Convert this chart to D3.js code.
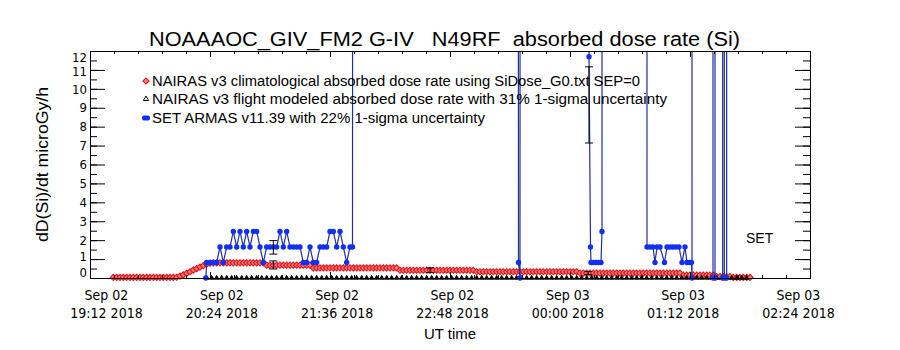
<!DOCTYPE html>
<html>
<head>
<meta charset="utf-8">
<script src="https://cdn.jsdelivr.net/npm/d3@7"></script>
<style>
body { margin: 0; background: #fff; }
svg { display: block; }
</style>
</head>
<body>
<div id="chart"></div>
<script>
// axis starts Sep 02 2018 19:12 UT, everything below is in minutes after that
var t0 = Date.UTC(2018, 8, 2, 19, 12);
var axisMinutes = [0, 432];
var majorStep = 72, minorStep = 14.4;
var yTicks = [0, 1, 2, 3, 4, 5, 6, 7, 8, 9, 10, 11, 12];

var titleText = "NOAAAOC_GIV_FM2 G-IV   N49RF  absorbed dose rate (Si)";
var legendLabels = [
    "NAIRAS v3 climatological absorbed dose rate using SiDose_G0.txt SEP=0",
    "NAIRAS v3 flight modeled absorbed dose rate with 31% 1-sigma uncertainty",
    "SET ARMAS v11.39 with 22% 1-sigma uncertainty"
];

// NAIRAS climatological, 2 min cadence from 19:26
var redStart = 14, redStep = 2;
var redValues = [
    0.03, 0.03, 0.03, 0.03, 0.03, 0.03, 0.03, 0.03, 0.03, 0.03,
    0.03, 0.03, 0.03, 0.03, 0.03, 0.03, 0.03, 0.03, 0.03,
    0.04, 0.1, 0.17, 0.25, 0.33, 0.42, 0.5, 0.58, 0.66, 0.73, 0.78,
    0.8, 0.8, 0.8, 0.8, 0.8, 0.8, 0.8, 0.8, 0.8, 0.8, 0.8, 0.8, 0.8, 0.8, 0.8, 0.8,
    0.68, 0.68, 0.68, 0.68, 0.68, 0.68, 0.68, 0.68, 0.68, 0.68, 0.68, 0.68, 0.68, 0.68,
    0.53, 0.53, 0.53, 0.53, 0.53, 0.53, 0.53, 0.53, 0.53, 0.53,
    0.53, 0.53, 0.53, 0.53, 0.53, 0.53, 0.53, 0.53, 0.53, 0.53,
    0.53, 0.53, 0.53, 0.53, 0.53, 0.53,
    0.41, 0.41, 0.41, 0.41, 0.41, 0.41, 0.41, 0.41, 0.41, 0.41,
    0.41, 0.41, 0.41, 0.41, 0.41, 0.41, 0.41, 0.41, 0.41, 0.41,
    0.41, 0.41, 0.41,
    0.33, 0.33, 0.33, 0.33, 0.33, 0.33, 0.33, 0.33, 0.33, 0.33,
    0.33, 0.33, 0.33, 0.33, 0.33, 0.33, 0.33, 0.33, 0.33, 0.33,
    0.33, 0.33, 0.33, 0.33, 0.33, 0.33, 0.33, 0.33, 0.33, 0.33, 0.33,
    0.26, 0.26, 0.26, 0.26, 0.26, 0.26, 0.26, 0.26, 0.26, 0.26,
    0.26, 0.26, 0.26, 0.26, 0.26, 0.26, 0.26, 0.26, 0.26, 0.26,
    0.26, 0.26, 0.26, 0.26, 0.26, 0.26, 0.26, 0.26, 0.26, 0.26, 0.26,
    0.15, 0.15, 0.15, 0.15, 0.15, 0.15, 0.15, 0.15, 0.15, 0.15,
    0.07, 0.07, 0.07, 0.07, 0.07,
    0.03, 0.03, 0.03, 0.03, 0.03, 0.03
];

// NAIRAS flight modeled, 3 min cadence from 20:22 (sits on the axis)
var flightStart = 70, flightStep = 3;
var flightValues = [
    0, 0, 0, 0, 0, 0, 0, 0, 0, 0,
    0, 0, 0, 0, 0, 0, 0, 0, 0, 0,
    0, 0, 0, 0, 0, 0, 0, 0, 0, 0,
    0, 0, 0, 0, 0, 0, 0, 0, 0, 0,
    0, 0, 0, 0, 0, 0, 0, 0, 0, 0,
    0, 0, 0, 0, 0, 0, 0, 0, 0, 0,
    0, 0, 0, 0, 0, 0, 0, 0, 0, 0,
    0, 0, 0, 0, 0, 0, 0, 0, 0, 0,
    0, 0, 0, 0, 0, 0, 0, 0, 0, 0,
    0, 0, 0, 0, 0, 0, 0, 0, 0, 0,
    0, 0, 0, 0, 0, 0, 0, 0, 0
];

// error bars: minute, centre, 1-sigma fraction
var errMinutes = [110, 110, 204, 299, 299.4];
var errCenters = [0.69, 1.62, 0.41, 0.26, 9.15];
var errFractions = [0.31, 0.22, 0.31, 0.31, 0.22];

// SET ARMAS, FILL marks bad records
var FILL = 9999;
var setMinutes = [
    69.5, 70, 72, 74, 76, 78, 80, 82, 84, 86, 88, 90, 92, 94, 96, 98, 100, 102, 104, 106,
    108, 110, 112, 114, 116, 118, 120, 122, 124, 126, 128, 130, 132, 134, 136, 138, 140, 142,
    144, 146, 148, 150, 152, 154, 156, 157.5,
    200,
    257.1, 258,
    280,
    299.4, 300.3, 300.6, 302.1, 303.6, 305.1, 306.6, 307.2,
    320,
    334.2, 336, 337.8, 339, 340.2, 342, 344.7, 346.2, 348, 349.8, 351.6, 353.4, 355.2, 357,
    358.2, 359.7, 360.9, 361.2,
    367,
    373.8, 374.4, 375, 379.6, 380, 380.6, 382, 383
];
var setValues = [
    0, 0.82, 0.82, 0.82, 0.82, 1.64, 0.82, 1.64, 1.64, 2.46, 1.64, 2.46, 1.64, 2.46, 1.64, 2.46, 2.46, 1.64, 0.82, 1.64,
    1.64, 1.64, 1.64, 2.46, 1.64, 2.46, 1.64, 1.64, 1.64, 1.64, 0.82, 0.82, 1.64, 0.82, 0.82, 1.64, 1.64, 1.64,
    2.46, 2.46, 1.64, 2.46, 1.64, 0.82, 1.64, 1.64,
    FILL,
    0.82, 0,
    FILL,
    11.7, 1.64, 0.82, 0.82, 0.82, 0.82, 0.82, 2.46,
    FILL,
    1.64, 1.64, 1.64, 0.82, 1.64, 1.64, 0.82, 1.64, 1.64, 1.64, 1.64, 1.64, 0.82, 1.64,
    0.82, 0.82, 0.82, 0,
    FILL,
    0, FILL, 0, 0, FILL, 0, 0, FILL
];

var FONT = "'Liberation Sans Narrow', 'DejaVu Sans Condensed', sans-serif";
var FONT2 = "'Liberation Sans', 'DejaVu Sans', sans-serif";
var redStroke = "#e2161a", redFill = "#f27a7a";
var blueDot = "#1030f5", blueLine = "#1f2f9f";

function toDate(m) { return new Date(t0 + m * 60000); }

var margin = {top: 51, right: 90, bottom: 72, left: 90},
    width = 900 - margin.left - margin.right,
    height = 350 - margin.top - margin.bottom;

var svg = d3.select("#chart")
    .append("svg")
    .attr("width", 900)
    .attr("height", 350);

var g = svg.append("g")
    .attr("transform", "translate(" + margin.left + "," + margin.top + ")");

var x = d3.scaleUtc()
    .domain(axisMinutes.map(toDate))
    .range([0, width]);
// IDL squeezes the date labels a little inward
var xLabel = d3.scaleUtc()
    .domain(x.domain())
    .range([16, 708]);
var y = d3.scaleLinear()
    .domain([0, 12])
    .range([height, 0]);

var majorTicks = d3.range(axisMinutes[0], axisMinutes[1] + 0.1, majorStep).map(toDate);
var minorTicks = d3.range(axisMinutes[0], axisMinutes[1] + 0.1, minorStep).map(toDate);
var yMinor = d3.range(0, 12.01, 0.5);

g.append("clipPath").attr("id", "plotclip")
    .append("rect").attr("width", width).attr("height", height);

// --- data ---
var redData = redValues.map(function (v, i) { return {t: toDate(redStart + i * redStep), v: v}; });
var flightData = flightValues.map(function (v, i) { return {t: toDate(flightStart + i * flightStep), v: v}; });
var setData = setMinutes.map(function (m, i) { return {t: toDate(m), v: setValues[i]}; });

var diamond = d3.symbol().type(d3.symbolSquare).size(19);
var triangle = d3.symbol().type(d3.symbolTriangle).size(12);
var smallTriangle = d3.symbol().type(d3.symbolTriangle).size(9);

g.append("g")
    .selectAll("path")
    .data(redData)
    .enter()
    .append("path")
    .attr("d", diamond)
    .attr("transform", function (d) { return "translate(" + x(d.t) + "," + y(d.v) + ") rotate(45)"; })
    .attr("fill", redFill)
    .attr("stroke", redStroke)
    .attr("stroke-width", 1.1);

g.append("g")
    .selectAll("path")
    .data(flightData)
    .enter()
    .append("path")
    .attr("d", smallTriangle)
    .attr("transform", function (d) { return "translate(" + x(d.t) + "," + y(d.v) + ")"; })
    .attr("fill", "#000")
    .attr("stroke", "#000")
    .attr("stroke-width", 0.8);

g.append("path")
    .datum(setData)
    .attr("clip-path", "url(#plotclip)")
    .attr("fill", "none")
    .attr("stroke", blueLine)
    .attr("stroke-width", 1.2)
    .attr("d", d3.line()
        .x(function (d) { return x(d.t); })
        .y(function (d) { return y(d.v); }));

g.append("g")
    .selectAll("circle")
    .data(setData.filter(function (d) { return d.v <= 12; }))
    .enter()
    .append("circle")
    .attr("cx", function (d) { return x(d.t); })
    .attr("cy", function (d) { return y(d.v); })
    .attr("r", 2.7)
    .attr("fill", blueDot);

// error bars
var errG = g.append("g").attr("stroke", "#000").attr("stroke-width", 1);
errMinutes.forEach(function (m, i) {
    var cx = x(toDate(m)),
        lo = y(errCenters[i] * (1 - errFractions[i])),
        hi = y(errCenters[i] * (1 + errFractions[i]));
    errG.append("line").attr("x1", cx).attr("x2", cx).attr("y1", lo).attr("y2", hi);
    errG.append("line").attr("x1", cx - 4).attr("x2", cx + 4).attr("y1", lo).attr("y2", lo);
    errG.append("line").attr("x1", cx - 4).attr("x2", cx + 4).attr("y1", hi).attr("y2", hi);
});

// --- axes ---
function styleAxis(sel) {
    sel.attr("font-family", FONT).attr("font-size", 14);
    sel.selectAll("path, line").attr("stroke", "#000");
    sel.selectAll("text").attr("fill", "#000");
}

var xAxis = g.append("g")
    .attr("transform", "translate(0," + height + ")")
    .call(d3.axisBottom(x).tickValues(majorTicks).tickSizeInner(-6).tickSizeOuter(0));
g.append("g")
    .attr("transform", "translate(0," + height + ")")
    .call(d3.axisBottom(x).tickValues(minorTicks).tickSizeInner(-3).tickSizeOuter(0).tickFormat(""))
    .call(styleAxis);
g.append("g")
    .call(d3.axisTop(x).tickValues(majorTicks).tickSizeInner(-6).tickSizeOuter(0).tickFormat(""))
    .call(styleAxis);
g.append("g")
    .call(d3.axisTop(x).tickValues(minorTicks).tickSizeInner(-3).tickSizeOuter(0).tickFormat(""))
    .call(styleAxis);
xAxis.call(styleAxis);

var fmtDay = d3.utcFormat("%b %d"), fmtTime = d3.utcFormat("%H:%M %Y");
xAxis.selectAll(".tick text").each(function (d) {
    var t = d3.select(this).text(null).attr("y", null).attr("dy", null);
    var dx = xLabel(d) - x(d);
    t.append("tspan").attr("x", dx).attr("y", 22).text(fmtDay(d));
    t.append("tspan").attr("x", dx).attr("y", 40).text(fmtTime(d));
});

var yAxis = g.append("g")
    .call(d3.axisLeft(y).tickValues(yTicks).tickSizeInner(-15).tickSizeOuter(0).tickPadding(3).tickFormat(d3.format("d")));
g.append("g")
    .call(d3.axisLeft(y).tickValues(yMinor).tickSizeInner(-7).tickSizeOuter(0).tickFormat(""))
    .call(styleAxis);
g.append("g")
    .attr("transform", "translate(" + width + ",0)")
    .call(d3.axisRight(y).tickValues(yTicks).tickSizeInner(-15).tickSizeOuter(0).tickFormat(""))
    .call(styleAxis);
g.append("g")
    .attr("transform", "translate(" + width + ",0)")
    .call(d3.axisRight(y).tickValues(yMinor).tickSizeInner(-7).tickSizeOuter(0).tickFormat(""))
    .call(styleAxis);
yAxis.call(styleAxis);
yAxis.selectAll(".tick text").attr("font-size", 13);
// end labels are pushed inside the frame
var yShift = {0: -6, 1: -3, 11: 1, 12: 6};
yAxis.selectAll(".tick text")
    .attr("transform", function (d) { return yShift[d] ? "translate(0," + yShift[d] + ")" : null; });

// --- texts ---
svg.append("text")
    .attr("x", 149)
    .attr("y", 46)
    .attr("font-family", FONT2)
    .attr("font-size", 20)
    .attr("textLength", 591)
    .attr("lengthAdjust", "spacingAndGlyphs")
    .style("white-space", "pre")
    .text(titleText);

svg.append("text")
    .attr("transform", "translate(48," + (margin.top + height / 2) + ") rotate(-90)")
    .attr("text-anchor", "middle")
    .attr("font-family", FONT2)
    .attr("font-size", 16)
    .attr("textLength", 155)
    .attr("lengthAdjust", "spacingAndGlyphs")
    .text("dD(Si)/dt microGy/h");

svg.append("text")
    .attr("x", margin.left + width / 2)
    .attr("y", 339)
    .attr("text-anchor", "middle")
    .attr("font-family", FONT2)
    .attr("font-size", 15)
    .text("UT time");

svg.append("text")
    .attr("x", 746)
    .attr("y", 243)
    .attr("font-family", FONT2)
    .attr("font-size", 14)
    .text("SET");

// legend
var legendY = [81, 99, 118];
var legendLen = [488, 515, 333];
var legend = svg.append("g");
legend.append("path")
    .attr("d", diamond)
    .attr("transform", "translate(146," + legendY[0] + ") rotate(45)")
    .attr("fill", redFill).attr("stroke", redStroke).attr("stroke-width", 1.1);
legend.append("path")
    .attr("d", triangle)
    .attr("transform", "translate(146," + legendY[1] + ")")
    .attr("fill", "none").attr("stroke", "#000");
legend.append("rect")
    .attr("x", 142).attr("y", legendY[2] - 2.5)
    .attr("width", 8).attr("height", 5).attr("rx", 2)
    .attr("fill", blueDot);
legend.selectAll("text")
    .data(legendLabels)
    .enter()
    .append("text")
    .attr("x", 152)
    .attr("y", function (d, i) { return legendY[i] + 5; })
    .attr("font-family", FONT2)
    .attr("font-size", 14)
    .attr("textLength", function (d, i) { return legendLen[i]; })
    .attr("lengthAdjust", "spacingAndGlyphs")
    .text(function (d) { return d; });
</script>
</body>
</html>
